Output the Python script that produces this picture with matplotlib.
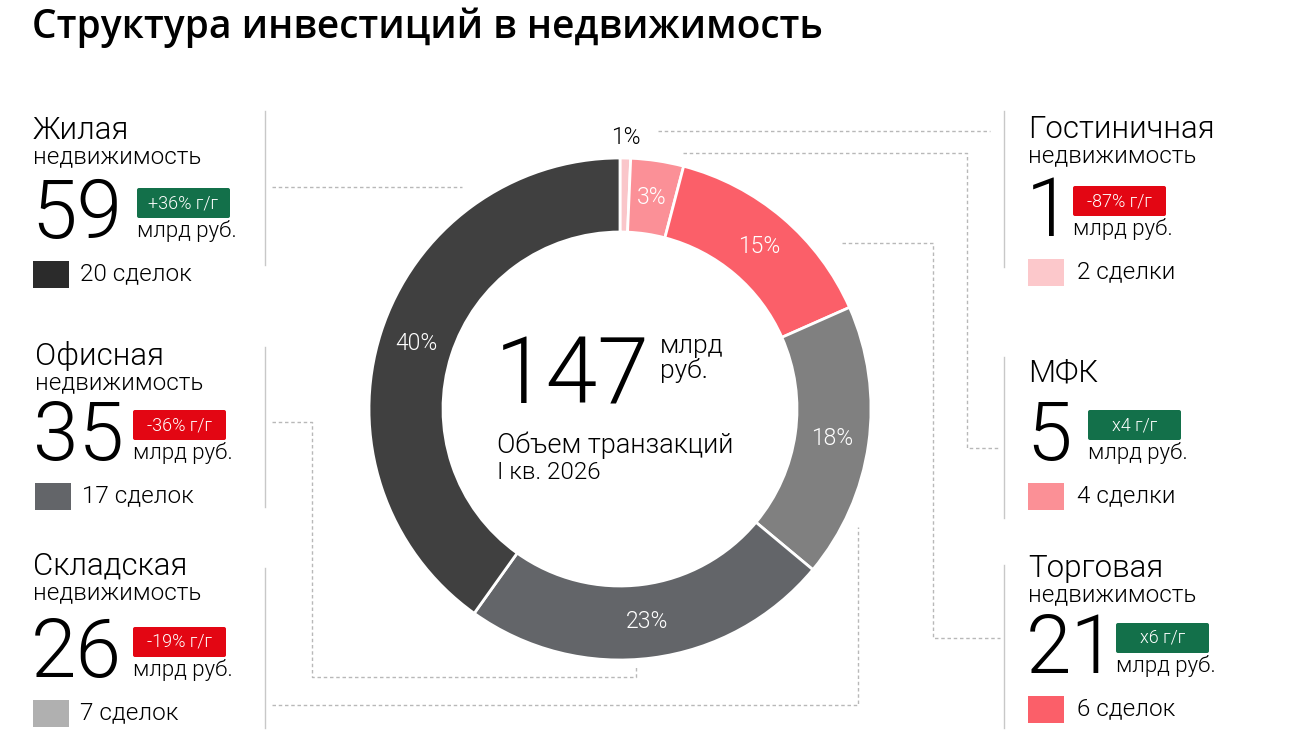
import numpy as np
import matplotlib
matplotlib.use("Agg")
import matplotlib.pyplot as plt
from matplotlib.patches import Rectangle, FancyBboxPatch

plt.rcParams['font.family'] = ['Roboto', 'DejaVu Sans']

# --- data (clockwise from 12 o'clock) ---
sectors = ["Гостиничная", "МФК", "Торговая", "Складская", "Офисная", "Жилая"]
second_line = ["недвижимость", "", "недвижимость", "недвижимость", "недвижимость", "недвижимость"]
volumes = [1, 5, 21, 26, 35, 59]          # млрд руб.
shares = ["1%", "3%", "15%", "18%", "23%", "40%"]
deals = ["2 сделки", "4 сделки", "6 сделок", "7 сделок", "17 сделок", "20 сделок"]
changes = ["-87% г/г", "x4 г/г", "x6 г/г", "-19% г/г", "-36% г/г", "+36% г/г"]
growth = [False, True, True, False, False, True]
total = 147
period = "I кв. 2026"

wedge_colors = ["#fac6ca", "#fb9097", "#fb5f69", "#808080", "#636569", "#404040"]
square_colors = ["#fcc8cb", "#fb9096", "#fb5f69", "#b0b0b0", "#636569", "#2b2b2b"]
GREEN = "#13704a"
RED = "#e30613"
LINE = "#c8c8c8"

W, H = 1302, 753
LW = 300  # light

fig = plt.figure(figsize=(W / 100, H / 100), dpi=100)
ax = fig.add_axes([0, 0, 1, 1])


def Y(p):
    # pixel row from top -> data y
    return H - p


# donut
cx, cy, R, ring = 620, 409, 251, 74
wedges, _ = ax.pie(volumes, colors=wedge_colors, startangle=90, counterclock=False,
                   radius=R, center=(cx, Y(cy)),
                   wedgeprops=dict(width=ring, edgecolor="white", linewidth=2))
for i, w in enumerate(wedges):
    mid = np.deg2rad((w.theta1 + w.theta2) / 2)
    r = R - ring / 2
    col = "white"
    if volumes[i] / total < 0.02:
        r = R + 21
        col = "black"
    ax.text(cx + r * np.cos(mid), Y(cy) + r * np.sin(mid), shares[i], color=col,
            fontsize=16.5, fontweight=LW, ha="center", va="center")

ax.set_xlim(0, W)
ax.set_ylim(0, H)
ax.set_aspect("auto")
ax.axis("off")

# centre text
ax.text(495, Y(403), str(total), fontsize=67, fontweight=LW, ha="left", va="baseline")
ax.text(660, Y(353), "млрд", fontsize=19, fontweight=LW, ha="left", va="baseline")
ax.text(660, Y(378), "руб.", fontsize=19, fontweight=LW, ha="left", va="baseline")
ax.text(497, Y(453), "Объем транзакций", fontsize=19.5, fontweight=LW, ha="left", va="baseline")
ax.text(497, Y(479), period, fontsize=17.5, fontweight=LW, ha="left", va="baseline")

# title
ax.text(32, Y(38), "Структура инвестиций в недвижимость", fontsize=28, fontweight="semibold",
        family=["Open Sans", "DejaVu Sans"], ha="left", va="baseline")

# block layout: index into data, x, title baseline, lower-part shift, badge x
blocks = [(5, 33, 139, 0, 137), (4, 35, 365, -4, 133), (3, 33, 575, 3, 133),
          (0, 1028, 138, -1, 1073), (1, 1028, 381, -20, 1088), (2, 1028, 577, -3, 1116)]

for idx, x0, tb, s, bx in blocks:
    ax.text(x0, Y(tb), sectors[idx], fontsize=22.5, fontweight=LW, va="baseline")
    if second_line[idx]:
        ax.text(x0, Y(tb + 24), second_line[idx], fontsize=17.5, fontweight=LW, va="baseline")
    b = tb + s
    ax.text(x0 - 2, Y(b + 99), str(volumes[idx]), fontsize=59, fontweight=LW, va="baseline")
    badge = FancyBboxPatch((bx, Y(b + 79)), 93, 30,
                           boxstyle="round,pad=0,rounding_size=2",
                           fc=GREEN if growth[idx] else RED, ec="none")
    ax.add_patch(badge)
    ax.text(bx + 46.5, Y(b + 64), changes[idx], color="white", fontsize=13,
            fontweight=LW, ha="center", va="center")
    ax.text(bx, Y(b + 98), "млрд руб.", fontsize=16, fontweight=LW, va="baseline")
    ax.add_patch(Rectangle((x0, Y(b + 149)), 36, 27, fc=square_colors[idx], ec="none"))
    ax.text(x0 + (47 if x0 < 500 else 49), Y(b + 141), deals[idx], fontsize=17.5,
            fontweight=LW, va="baseline")

# separators
for x, y1, y2 in [(265, 111, 265), (265, 347, 507), (265, 568, 728),
                  (1004, 111, 267), (1004, 357, 518), (1004, 565, 728)]:
    ax.plot([x, x], [Y(y1), Y(y2)], color=LINE, lw=1)

# dashed connectors
dash = dict(color="#b8b8b8", lw=1, linestyle=(0, (2.5, 2)))
paths = [
    [(272, 187), (462, 187)],
    [(272, 422), (312, 422), (312, 677), (636, 677), (636, 665)],
    [(272, 705), (858, 705), (858, 527)],
    [(842, 243), (933, 243), (933, 638), (1000, 638)],
    [(683, 153), (967, 153), (967, 448), (1000, 448)],
    [(658, 131), (990, 131)],
]
for p in paths:
    ax.plot([q[0] for q in p], [Y(q[1]) for q in p], **dash)

fig.savefig("out.png", dpi=100)
